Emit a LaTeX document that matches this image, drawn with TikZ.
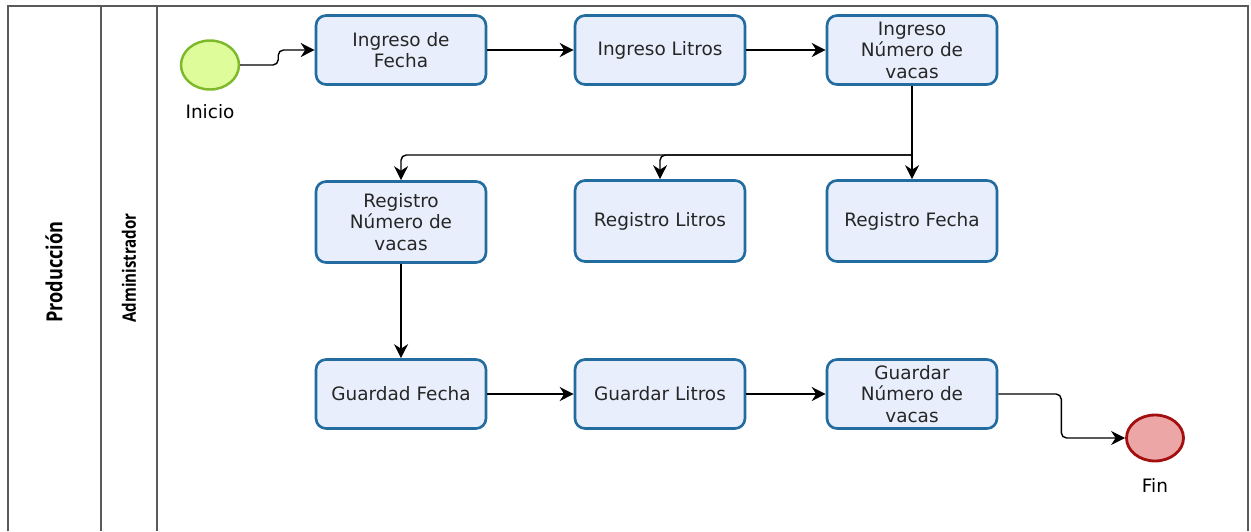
\documentclass[tikz,border=0pt]{standalone}
\usepackage{fontspec}
\setmainfont{DejaVu Sans}
\newfontfamily\lanefont[FakeStretch=0.82]{Open Sans}
\usetikzlibrary{arrows.meta, positioning, shapes.geometric}

\definecolor{taskfill}{HTML}{E8EEFB}
\definecolor{taskline}{HTML}{236CA0}
\definecolor{startfill}{HTML}{DEFC9A}
\definecolor{startline}{HTML}{7DB92A}
\definecolor{endfill}{HTML}{ECA6A6}
\definecolor{endline}{HTML}{A30F0F}
\definecolor{laneline}{HTML}{5A5A5A}

\begin{document}
\begin{tikzpicture}[
    x=0.02cm, y=0.02cm,
    >={Stealth[length=8pt, width=8pt]},
    task/.style={draw=taskline, fill=taskfill, line width=1.5pt,
                 rounded corners=0.2cm, minimum width=3.4cm,
                 minimum height=1.38cm, align=center, inner sep=2pt,
                 font=\fontsize{10.5}{12.2}\selectfont, text=black!85},
    tall/.style={minimum height=1.62cm},
    flow/.style={->, line width=0.8pt, rounded corners=3pt},
    lane/.style={rotate=90, font=\lanefont\bfseries}
  ]
  \useasboundingbox (0,0) rectangle (1251,-531);

  % pool and lanes
  \draw[laneline, line width=0.9pt] (8,-531) -- (8,-6) -- (1248,-6) -- (1248,-531);
  \draw[laneline, line width=0.9pt] (101,-6) -- (101,-531);
  \draw[laneline, line width=0.9pt] (157,-6) -- (157,-531);
  \node[lane, font=\lanefont\bfseries\fontsize{12.6}{14}\selectfont] (prod) at (54,-272) {Producción};
  \node[lane, font=\lanefont\bfseries\fontsize{10.5}{12}\selectfont] (admin) at (129,-268) {Administrador};

  % events
  \node[ellipse, draw=startline, fill=startfill, line width=1.4pt,
        minimum width=1.16cm, minimum height=0.98cm, inner sep=0pt] (inicio) at (210,-65) {};
  \node[below=0.16cm of inicio, font=\fontsize{10.5}{12}\selectfont] (inicio-lbl) {Inicio};
  \node[ellipse, draw=endline, fill=endfill, line width=1.6pt,
        minimum width=1.14cm, minimum height=0.92cm, inner sep=0pt] (fin) at (1155,-438) {};
  \node[below=0.2cm of fin, font=\fontsize{10.5}{12}\selectfont] (fin-lbl) {Fin};

  % first row
  \node[task] (ingfecha) at (401,-50) {Ingreso de\\Fecha};
  \node[task] (inglitros) at (660,-50) {Ingreso Litros};
  \node[task] (ingnum) at (912,-50) {Ingreso\\Número de\\vacas};

  % second row
  \node[task, tall] (regnum) at (401,-222) {Registro\\Número de\\vacas};
  \node[task, tall] (reglitros) at (660,-221) {Registro Litros};
  \node[task, tall] (regfecha) at (912,-221) {Registro Fecha};

  % third row
  \node[task] (guafecha) at (401,-394) {Guardad Fecha};
  \node[task] (gualitros) at (660,-394) {Guardar Litros};
  \node[task] (guanum) at (912,-394) {Guardar\\Número de\\vacas};

  \coordinate (split) at (912,-155);

  \draw[flow] (inicio.east) -- ++(38,0) |- (ingfecha.west);
  \draw[flow] (ingfecha) -- (inglitros);
  \draw[flow] (inglitros) -- (ingnum);
  \draw[flow] (ingnum) -- (regfecha);
  \draw[flow] (split) -| (reglitros);
  \draw[flow] (split) -| (regnum);
  \draw[flow] (regnum) -- (guafecha);
  \draw[flow] (guafecha) -- (gualitros);
  \draw[flow] (gualitros) -- (guanum);
  \draw[flow] (guanum.east) -- ++(63,0) |- (fin.west);
\end{tikzpicture}
\end{document}
